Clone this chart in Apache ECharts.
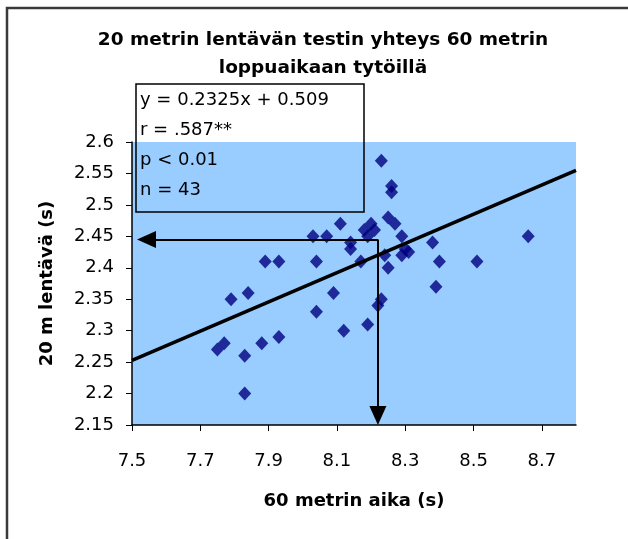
<!DOCTYPE html>
<html>
<head>
<meta charset="utf-8">
<script src="https://cdn.jsdelivr.net/npm/echarts@6/dist/echarts.min.js"></script>
<style>
html,body{margin:0;padding:0;background:#fff;}
#chart{width:628px;height:539px;}
</style>
</head>
<body>
<div id="chart"></div>
<script>
// ---- data ----
const titleLines = ['20 metrin lentävän testin yhteys 60 metrin', 'loppuaikaan tytöillä'];
const xAxisName = '60 metrin aika (s)';
const yAxisName = '20 m lentävä (s)';
const xTicks = [7.5, 7.7, 7.9, 8.1, 8.3, 8.5, 8.7];
const yTicks = [2.15, 2.2, 2.25, 2.3, 2.35, 2.4, 2.45, 2.5, 2.55, 2.6];
const xRange = [7.5, 8.8];
const yRange = [2.15, 2.6];

const time60 = [8.23, 8.26, 8.26, 8.11, 8.25, 8.27, 8.29, 8.20, 8.18, 8.19, 8.21,
  8.03, 8.07, 8.14, 8.14, 8.38, 8.66, 8.30, 8.29, 8.31, 8.24, 8.17, 8.25,
  7.89, 7.93, 8.04, 8.40, 8.51, 8.39, 7.84, 7.79, 8.09, 8.23, 8.22, 8.04,
  8.12, 8.19, 7.93, 7.88, 7.77, 7.75, 7.83, 7.83];
const fly20 = [2.57, 2.53, 2.52, 2.47, 2.48, 2.47, 2.45, 2.47, 2.46, 2.45, 2.46,
  2.45, 2.45, 2.44, 2.43, 2.44, 2.45, 2.43, 2.42, 2.425, 2.42, 2.41, 2.40,
  2.41, 2.41, 2.41, 2.41, 2.41, 2.37, 2.36, 2.35, 2.36, 2.35, 2.34, 2.33,
  2.30, 2.31, 2.29, 2.28, 2.28, 2.27, 2.26, 2.20];

const slope = 0.2325;
const intercept = 0.509;
const statLines = ['y = 0.2325x + 0.509', 'r = .587**', 'p < 0.01', 'n = 43'];
const readX = 8.22;   // arrow guide: 60 m time
const readY = 2.445;  // arrow guide: 20 m time

// ---- chart ----
const chart = echarts.init(document.getElementById('chart'), null, {renderer: 'canvas'});
const points = time60.map((x, i) => [x, fly20[i]]);
const trend = xRange.map(x => [x, slope * x + intercept]);

const font = 'DejaVu Sans';
const arrowLen = 19;
const gridBox = {left: 132, top: 142, width: 444, height: 283};

function buildOption(leftEnd, bottomEnd) {
  return {
    animation: false,
    backgroundColor: '#ffffff',
    grid: Object.assign({show: true, backgroundColor: '#99CCFF', borderWidth: 0}, gridBox),
    xAxis: {
      type: 'value', min: xRange[0], max: xRange[1],
      name: xAxisName, nameLocation: 'middle', nameGap: 67,
      nameTextStyle: {fontFamily: font, fontWeight: 'bold', fontSize: 18, color: '#000'},
      axisLine: {show: true, onZero: false, lineStyle: {color: '#000', width: 1.5}},
      axisTick: {show: true, inside: false, length: 6, lineStyle: {color: '#000'}, customValues: xTicks},
      axisLabel: {customValues: xTicks, formatter: v => v.toFixed(1), margin: 27,
        fontFamily: font, fontSize: 18, color: '#000'},
      splitLine: {show: false}
    },
    yAxis: {
      type: 'value', min: yRange[0], max: yRange[1],
      name: yAxisName, nameLocation: 'middle', nameGap: 76, nameRotate: 90,
      nameTextStyle: {fontFamily: font, fontWeight: 'bold', fontSize: 18, color: '#000'},
      axisLine: {show: true, onZero: false, lineStyle: {color: '#000', width: 1.5}},
      axisTick: {show: true, inside: false, length: 6, lineStyle: {color: '#000'}, customValues: yTicks},
      axisLabel: {customValues: yTicks, formatter: v => String(+v.toFixed(2)), margin: 18,
        fontFamily: font, fontSize: 18, color: '#000'},
      splitLine: {show: false}
    },
    series: [
      {
        type: 'line', data: trend, symbol: 'none', silent: true,
        lineStyle: {color: '#000', width: 3.5}, z: 3
      },
      {
        type: 'scatter', data: points, symbol: 'diamond', symbolSize: [13, 14],
        itemStyle: {color: '#000080'}, z: 2
      },
      {
        type: 'line', data: [], silent: true, z: 4,
        markLine: {
          silent: true, animation: false,
          symbol: ['none', 'triangle'], symbolSize: [17, arrowLen],
          lineStyle: {color: '#000', width: 2, type: 'solid'},
          label: {show: false},
          data: [
            [{coord: [readX, readY]}, {coord: [leftEnd, readY]}],
            [{coord: [readX, readY]}, {coord: [readX, bottomEnd]}]
          ]
        }
      }
    ],
    graphic: [
      {type: 'rect', shape: {x: 7, y: 8, width: 700, height: 700},
        style: {fill: 'none', stroke: '#3a3a3a', lineWidth: 2.5}, silent: true, z: 100},
      {type: 'text', x: 323, y: 40, style: {text: titleLines[0], font: 'bold 18.5px "DejaVu Sans"',
        fill: '#000', align: 'center', verticalAlign: 'middle'}, z: 100},
      {type: 'text', x: 323, y: 68, style: {text: titleLines[1], font: 'bold 18.5px "DejaVu Sans"',
        fill: '#000', align: 'center', verticalAlign: 'middle'}, z: 100},
      {type: 'rect', shape: {x: 136, y: 84, width: 228, height: 128},
        style: {fill: 'none', stroke: '#000', lineWidth: 1.5}, z: 100},
      ...statLines.map((t, i) => ({type: 'text', x: 140, y: 100 + i * 30,
        style: {text: t, font: '18px "DejaVu Sans"', fill: '#000', align: 'left', verticalAlign: 'middle'}, z: 100}))
    ]
  };
}

// first pass to get the scales, then pull arrow ends inward so the arrow tips touch the axes
chart.setOption(buildOption(xRange[0], yRange[0]));
const axisCorner = chart.convertToPixel({gridIndex: 0}, [xRange[0], yRange[0]]);
const leftEnd = chart.convertFromPixel({xAxisIndex: 0}, axisCorner[0] + 5 + arrowLen / 2);
const bottomEnd = chart.convertFromPixel({yAxisIndex: 0}, axisCorner[1] - arrowLen / 2);
chart.setOption(buildOption(leftEnd, bottomEnd), true);
</script>
</body>
</html>
